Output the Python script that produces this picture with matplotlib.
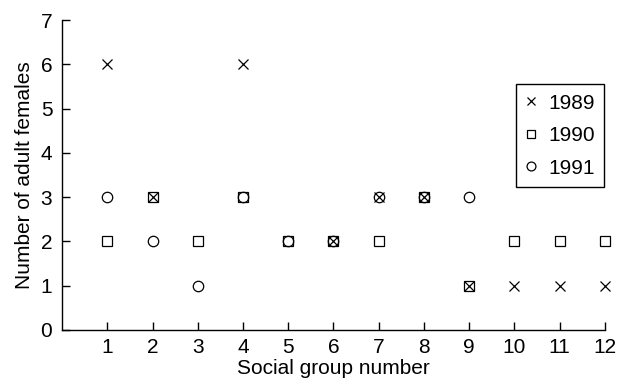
import numpy as np
import matplotlib
matplotlib.use("Agg")
import matplotlib.pyplot as plt

plt.rcParams['font.family'] = ['Liberation Sans', 'DejaVu Sans']

groups = np.arange(1, 13)
f1989 = [6, 3, np.nan, 6, np.nan, 2, 3, 3, 1, 1, 1, 1]
f1990 = [2, 3, 2, 3, 2, 2, 2, 3, 1, 2, 2, 2]
f1991 = [3, 2, 1, 3, 2, 2, 3, 3, 3, np.nan, np.nan, np.nan]

fig = plt.figure(figsize=(6.17, 3.88), dpi=100)
ax = fig.add_axes([0.1005, 0.1495, 0.88, 0.7985])

ax.plot(groups, f1989, 'x', color='black', ms=7, mew=0.9, label='1989', clip_on=False)
ax.plot(groups, f1990, 's', mfc='none', mec='black', ms=7, mew=0.9, label='1990', clip_on=False)
ax.plot(groups, f1991, 'o', mfc='none', mec='black', ms=7.5, mew=0.9, label='1991', clip_on=False)

ax.set_xlim(0, 12)
ax.set_ylim(0, 7)
ax.set_xticks(groups)
ax.set_yticks(range(0, 8))
ax.tick_params(direction='in', length=6, width=1, labelsize=15, colors='black')
ax.tick_params(axis='x', pad=6)
ax.tick_params(axis='y', pad=7)
for s in ['top', 'right']:
    ax.spines[s].set_visible(False)
for s in ['left', 'bottom']:
    ax.spines[s].set_linewidth(1)

ax.set_xlabel('Social group number', fontsize=15, labelpad=1)
ax.set_ylabel('Number of adult females', fontsize=15, labelpad=5)

leg = ax.legend(loc='upper right', bbox_to_anchor=(0.998, 0.7935), fontsize=15,
                fancybox=False, edgecolor='black', framealpha=1,
                handlelength=0.6, handletextpad=0.5, labelspacing=0.65,
                borderpad=0.45, borderaxespad=0, markerscale=0.85)
leg.get_frame().set_linewidth(1)

fig.savefig('out.png', dpi=100)
